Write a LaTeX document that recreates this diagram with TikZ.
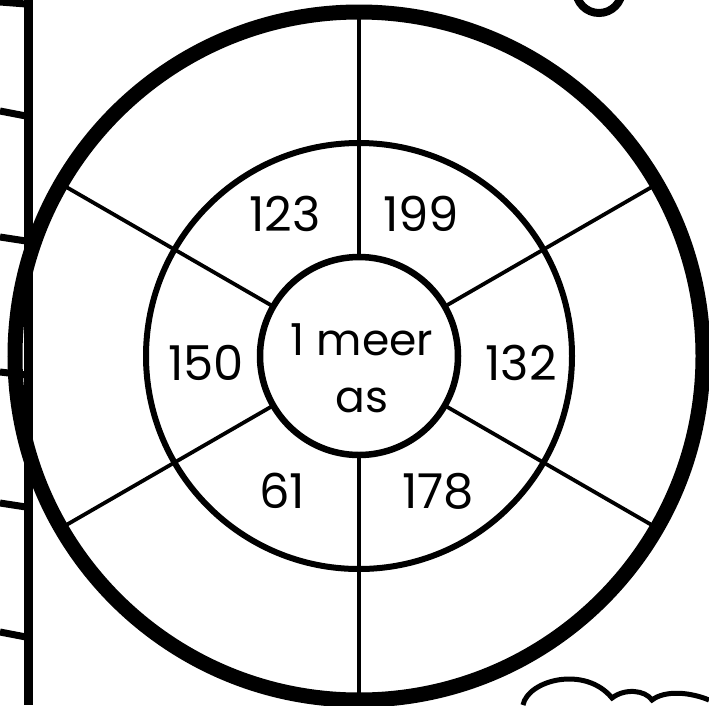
\documentclass[tikz,border=0pt]{standalone}
\usepackage{fontspec}
\setmainfont{Poppins}
\usepackage{tikz}
\usetikzlibrary{positioning, calc}
\definecolor{ink}{HTML}{000000}
\tikzset{
  ringline/.style={
    circle, inner sep=0pt, outer sep=0pt,
    draw=ink, fill=none,
  },
  spoke/.style={draw=ink, line width=3.8pt},
  numtext/.style={
    font=\fontsize{48}{52}\selectfont, text=ink, inner sep=0pt,
  },
  hubtext/.style={
    font=\fontsize{44}{57}\selectfont, text=ink, inner sep=0pt,
    align=center,
  },
  ladder/.style={draw=ink, line width=9pt},
}

\begin{document}
\begin{tikzpicture}[x=1pt,y=-1pt]
  \useasboundingbox (0,0) rectangle (709,705);
  % ladder on the left
  \draw[ladder] (28,0) -- (28,705);
  \foreach \ty/\tz in {2/4, 111/116, 237/241, 372/375, 503/507, 632/637}
    \draw[ladder,line width=7pt] (0,\ty) -- (26,\tz);
  % wheel
  \coordinate (c) at (359,356);
  \node[ringline, minimum size=688pt, line width=15pt] (rim) at (c) {};
  \node[ringline, minimum size=426pt, line width=6pt] (ring) at (c) {};
  \node[ringline, minimum size=198pt, line width=6.5pt, fill=white] (hub) at (c) {};
  \foreach \a in {30,90,150,210,270,330}
    \draw[spoke] (hub.\a) -- (rim.\a);
  % labels
  \node[hubtext] (rule) at (362,368) {1 meer\\as};
  \node[numtext] (n123) at (285,214) {123};
  \node[numtext] (n199) at (421,214) {199};
  \node[numtext] (n150) at (206,363) {150};
  \node[numtext] (n132) at (521,363) {132};
  \node[numtext] (n61) at (282,491) {61};
  \node[numtext] (n178) at (438,491) {178};
  % cut-off bits at the edges
  \draw[ink, line width=8pt] (576,-10) arc[start angle=180, end angle=360, radius=23pt];
  \draw[ink, line width=5pt] (523,705) .. controls (528,680) and (585,665) .. (612,698)
    .. controls (625,688) and (645,690) .. (652,700)
    .. controls (665,690) and (690,692) .. (709,700);
\end{tikzpicture}
\end{document}
